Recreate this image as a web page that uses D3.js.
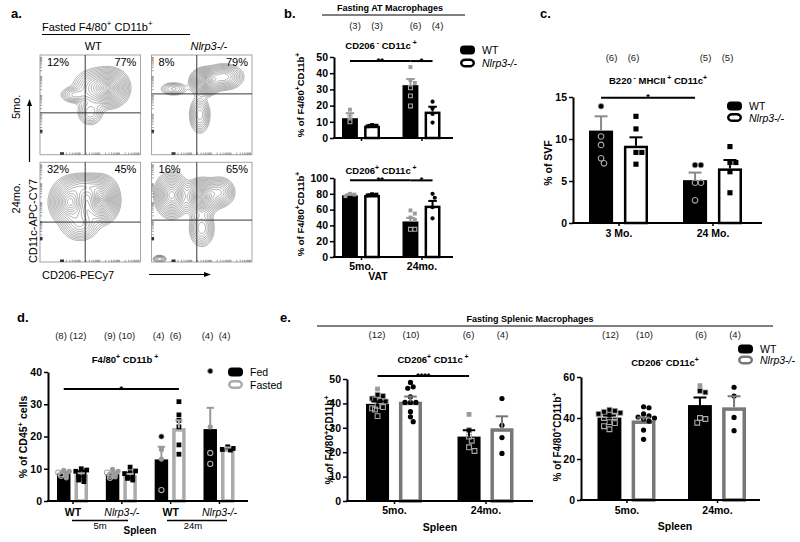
<!DOCTYPE html>
<html><head><meta charset="utf-8">
<script src="https://cdn.jsdelivr.net/npm/d3@7"></script>
<style>
body{margin:0;background:#fff;}
svg{display:block;font-family:"Liberation Sans",Arial,sans-serif;}
</style></head><body>
<svg id="c" width="800" height="542"></svg>
<script>
// ================= DATA =================
// Panel a: flow cytometry contour plots (gaussian components: cx, cy, sx, sy, weight in unit plot coords)
const flowCols = ["WT", "Nlrp3-/-"];
const flowRows = ["5mo.", "24mo."];
const flowWT5  = [[0.70,0.33,0.085,0.085,1.0],[0.56,0.33,0.11,0.09,0.55],[0.34,0.40,0.07,0.04,0.3],[0.50,0.58,0.065,0.065,0.3]];
const flowKO5  = [[0.53,0.27,0.065,0.06,1.0],[0.72,0.22,0.09,0.06,0.55],[0.22,0.34,0.07,0.035,0.22],[0.48,0.60,0.05,0.09,0.38]];
const flowWT24 = [[0.30,0.40,0.09,0.10,0.9],[0.62,0.38,0.075,0.10,1.0],[0.45,0.24,0.11,0.06,0.45],[0.40,0.62,0.09,0.08,0.38]];
const flowKO24 = [[0.20,0.33,0.075,0.10,0.85],[0.50,0.35,0.075,0.08,1.0],[0.68,0.30,0.07,0.07,0.45],[0.50,0.66,0.06,0.09,0.38],[0.08,0.97,0.035,0.02,0.25]];
const flowGates = [[0.45,0.58],[0.45,0.39],[0.45,0.60],[0.45,0.58]];
const flowLeftPct = ["12%","8%","32%","16%"];
const flowRightPct = ["77%","79%","45%","65%"];

// Panel b: Fasting AT macrophages
const genoSeries = ["WT","Nlrp3-/-"];
const bGroups = ["5mo.","24mo."];
const bCounts = ["(3)","(3)","(6)","(4)"];
const b1Ticks = [0,10,20,30,40,50];
const b1Mean = [12.2, 7.6, 32.6, 16.3];
const b1Sem  = [3.1, 0.5, 3.8, 3.0];
const b1Points = [
  [[17.5,"f"],[13,"o"],[10,"o"]],
  [[8.0,"f"],[7.6,"f"],[7.2,"f"]],
  [[43.8,"f"],[35.8,"f"],[34,"f"],[31,"o"],[26,"o"],[19.8,"o"]],
  [[22.4,"f"],[18.3,"f"],[14.8,"f"],[9.5,"f"]]
];
const b2Ticks = [0,20,40,60,80,100];
const b2Mean = [78, 78.5, 45, 65];
const b2Sem  = [1.5, 0.8, 4.5, 6];
const b2Points = [
  [[80,"f"],[79,"f"],[77,"f"]],
  [[79.5,"f"],[79,"f"],[78,"f"]],
  [[59,"f"],[55,"f"],[50,"f"],[47,"f"],[35,"o"],[35,"o"]],
  [[80,"f"],[75,"f"],[63,"f"],[49,"f"]]
];

// Panel c: B220- MHCII+ CD11c+
const cGroups = ["3 Mo.","24 Mo."];
const cCounts = ["(6)","(6)","(5)","(5)"];
const cTicks = [0,5,10,15];
const cMean = [11.0, 9.2, 5.1, 6.5];
const cSem  = [1.7, 1.0, 0.9, 1.0];
const cPoints = [
  [[13.9,"d"],[10.3,"o"],[9.3,"o"],[7.7,"o"],[7.1,"o"]],
  [[12.7,"f"],[11.2,"f"],[8.4,"f"],[8.4,"f"],[7.0,"f"]],
  [[6.9,"d"],[6.9,"d"],[4.8,"o"],[4.8,"o"],[2.7,"o"]],
  [[9.1,"f"],[7.2,"f"],[7.2,"f"],[6.1,"f"],[3.6,"f"]]
];

// Panel d: spleen F4/80+ CD11b+ fed vs fasted
const dGroups = ["WT 5m","Nlrp3 5m","WT 24m","Nlrp3 24m"];
const dGroupLabels = ["WT","Nlrp3-/-","WT","Nlrp3-/-"];
const dSeries = ["Fed","Fasted"];
const dCounts = ["(8)","(12)","(9)","(10)","(4)","(6)","(4)","(4)"];
const dTicks = [0,10,20,30,40];
const dMean = [8.5, 8.2, 8.3, 8.0, 12.9, 22.6, 22.3, 16.3];
const dSem  = [0.4, 0.4, 0.3, 0.4, 3.9, 2.4, 6.6, 0.3];
const dPoints = [
  [[9.5,"f"],[9.2,"f"],[8.8,"o"],[8.5,"f"],[8.3,"o"],[8.0,"f"],[7.8,"o"],[7.2,"f"]],
  [[10,"f"],[9.6,"f"],[9.2,"f"],[9,"f"],[8.7,"f"],[8.4,"f"],[8,"f"],[7.8,"f"],[7.5,"f"],[7,"f"],[6.5,"f"],[6,"f"]],
  [[9.8,"f"],[9.2,"f"],[8.8,"o"],[8.5,"f"],[8.2,"o"],[8,"f"],[7.8,"o"],[7.5,"f"],[7.2,"o"]],
  [[10.5,"f"],[9.3,"f"],[8.8,"f"],[8.5,"f"],[8.2,"f"],[8,"f"],[7.7,"f"],[7.3,"f"],[7,"f"],[6.5,"f"]],
  [[20,"d"],[16,"f"],[13,"f"],[3.4,"o"]],
  [[30.8,"f"],[26.7,"f"],[25,"f"],[23,"f"],[17.4,"f"],[14.5,"f"]],
  [[40.3,"d"],[23,"f"],[14.9,"o"],[11.5,"o"]],
  [[16.8,"f"],[16.3,"f"],[16,"f"],[15.8,"f"]]
];

// Panel e: Fasting splenic macrophages
const eGroups = ["5mo.","24mo."];
const eCounts = ["(12)","(10)","(6)","(4)"];
const e1Ticks = [0,10,20,30,40,50];
const e1Mean = [39.8, 40.7, 26.4, 29.8];
const e1Sem  = [1.0, 2.1, 2.6, 4.9];
const e1Points = [
  [[45.9,"f"],[43.5,"d"],[43,"d"],[42,"d"],[41.5,"d"],[41,"d"],[40.8,"d"],[39,"o"],[38.5,"o"],[38,"o"],[37.5,"o"],[34.8,"o"]],
  [[48.6,"f"],[46.8,"f"],[46.2,"f"],[42.7,"f"],[40.4,"f"],[40.4,"f"],[40.4,"f"],[36.6,"f"],[34.5,"f"],[32.5,"f"]],
  [[35.5,"f"],[29,"d"],[26.4,"o"],[24.7,"o"],[22,"o"],[20.5,"o"]],
  [[42,"f"],[31,"f"],[26,"f"],[19.5,"f"]]
];
const e2Ticks = [0,20,40,60];
const e2Mean = [40.2, 38.8, 46.3, 45.2];
const e2Sem  = [1.0, 1.4, 3.7, 5.4];
const e2Points = [
  [[44,"d"],[43.5,"d"],[43,"d"],[42.5,"d"],[42,"d"],[41.5,"d"],[40.5,"o"],[40,"o"],[38,"o"],[37.5,"o"],[36,"o"],[34.5,"o"]],
  [[45.5,"f"],[45,"f"],[42,"f"],[41,"f"],[40.5,"f"],[40,"f"],[39.5,"f"],[38.5,"f"],[34.1,"f"],[29.6,"f"]],
  [[55.8,"f"],[53.2,"d"],[52.5,"d"],[40,"o"],[39.5,"o"],[37.7,"o"]],
  [[55,"f"],[50.7,"f"],[40.3,"f"],[33.8,"f"]]
];

// ================= DRAWING =================
const svg = d3.select("#c");
const FF = "'Liberation Sans', Arial, sans-serif";

function rich(sel, segs, fs) {
  segs.forEach(([t, s], i) => {
    const ts = sel.append("tspan").text(t);
    if (s) ts.attr("dy", -fs * 0.42).attr("font-size", fs * 0.72);
    else if (i > 0 && segs[i - 1][1]) ts.attr("dy", fs * 0.42);
  });
  return sel;
}
function text(x, y, str, o = {}) {
  const t = svg.append("text").attr("x", x).attr("y", y)
    .attr("font-size", o.fs || 10).attr("font-weight", o.bold ? "bold" : "normal")
    .attr("font-style", o.italic ? "italic" : "normal")
    .attr("text-anchor", o.anchor || "start").attr("fill", o.fill || "#000");
  if (o.rot) t.attr("transform", `rotate(${o.rot},${x},${y})`);
  if (Array.isArray(str)) rich(t, str, o.fs || 10); else t.text(str);
  return t;
}
function line(x1, y1, x2, y2, sw = 1, col = "#000") {
  svg.append("line").attr("x1", x1).attr("y1", y1).attr("x2", x2).attr("y2", y2)
    .attr("stroke", col).attr("stroke-width", sw);
}

// ---------- Panel a ----------
text(11, 18, "a.", {fs: 13, bold: true});
text(42, 31, [["Fasted F4/80",0],["+",1],[" CD11b",0],["+",1]], {fs: 11});
line(42, 34.5, 190, 34.5, 1);
const aCol = d3.scaleBand().domain(flowCols).range([40, 252]).paddingInner(0.1);
const aRow = d3.scaleBand().domain(flowRows).range([55, 262]).paddingInner(0.07);
text(aCol(flowCols[0]) + aCol.bandwidth()/2 + 3, 50, flowCols[0], {fs: 11, anchor: "middle"});
text(aCol(flowCols[1]) + aCol.bandwidth()/2 + 7, 50, flowCols[1], {fs: 11, anchor: "middle", italic: true});
text(20, aRow(flowRows[0]) + aRow.bandwidth()/2 + 2, flowRows[0], {fs: 11, anchor: "middle", rot: -90});
text(20, aRow(flowRows[1]) + aRow.bandwidth()/2 - 14, flowRows[1], {fs: 11, anchor: "middle", rot: -90});
text(37, 221, "CD11c-APC-CY7", {fs: 11, anchor: "middle", rot: -90});
text(42, 279, "CD206-PECy7", {fs: 11});
// arrows
line(29.5, 162, 29.5, 104, 1.2);
svg.append("path").attr("d", "M29.5,99 L27,106 L32,106 Z").attr("fill", "#000");
line(149, 274.5, 205, 274.5, 1.2);
svg.append("path").attr("d", "M211,274.5 L204,272 L204,277 Z").attr("fill", "#000");

const defs = svg.append("defs");
const flowSets = [[0,0,flowWT5],[1,0,flowKO5],[0,1,flowWT24],[1,1,flowKO24]];
flowSets.forEach(([ci, ri, comps], i) => {
  const x0 = aCol(flowCols[ci]), x1 = x0 + aCol.bandwidth();
  const y0 = aRow(flowRows[ri]), y1 = y0 + aRow.bandwidth();
  defs.append("clipPath").attr("id", "clip" + i).append("rect")
    .attr("x", x0).attr("y", y0).attr("width", x1 - x0).attr("height", y1 - y0);
  const n = 100;
  const vals = new Float64Array(n * n);
  for (let j = 0; j < n; j++) for (let k = 0; k < n; k++) {
    const x = (k + 0.5) / n, y = (j + 0.5) / n;
    let v = 0;
    for (const c of comps) v += c[4] * Math.exp(-((x - c[0]) ** 2 / (2 * c[2] ** 2) + (y - c[1]) ** 2 / (2 * c[3] ** 2)));
    vals[j * n + k] = v;
  }
  const mx = d3.max(vals);
  // contour levels evenly spaced in radius out to ~2.5 sigma of the peak
  const thr = d3.range(1, 19).map(k => mx * Math.exp(-0.5 * (2.5 * k / 18) ** 2));
  const cs = d3.contours().size([n, n]).thresholds(thr)(vals);
  const sx = d3.scaleLinear().domain([0, n]).range([x0, x1]);
  const sy = d3.scaleLinear().domain([0, n]).range([y0, y1]);
  const path = d3.geoPath(d3.geoTransform({point(x, y) { this.stream.point(sx(x), sy(y)); }}));
  const g = svg.append("g").attr("clip-path", `url(#clip${i})`);
  g.selectAll("path").data(cs).join("path").attr("d", path)
    .attr("fill", "none").attr("stroke", "#6a6a6a").attr("stroke-width", 0.55);
  // box
  svg.append("rect").attr("x", x0).attr("y", y0).attr("width", x1 - x0).attr("height", y1 - y0)
    .attr("fill", "none").attr("stroke", "#9a9a9a").attr("stroke-width", 0.9);
  // log-style inward ticks
  const lx = d3.scaleLog().domain([10, 1e5]).range([x0 + 20, x1 - 2]);
  const ly = d3.scaleLog().domain([10, 1e5]).range([y1 - 22, y0 + 2]);
  svg.append("g").attr("transform", `translate(0,${y1})`)
    .call(d3.axisBottom(lx).tickSize(-2.2).tickFormat("").tickSizeOuter(0))
    .call(s => s.select(".domain").remove()).selectAll("line").attr("stroke", "#777").attr("stroke-width", 0.7);
  svg.append("g").attr("transform", `translate(${x0},0)`)
    .call(d3.axisLeft(ly).tickSize(-2.2).tickFormat("").tickSizeOuter(0))
    .call(s => s.select(".domain").remove()).selectAll("line").attr("stroke", "#777").attr("stroke-width", 0.7);
  svg.append("rect").attr("x", x0 + 20).attr("y", y1 - 2.5).attr("width", 4).attr("height", 2.5).attr("fill", "#333");
  svg.append("rect").attr("x", x0).attr("y", y1 - 25).attr("width", 2.5).attr("height", 3).attr("fill", "#333");
  // gates
  const gx = x0 + flowGates[i][0] * (x1 - x0), gy = y0 + flowGates[i][1] * (y1 - y0);
  line(gx, y0, gx, y1, 0.9, "#222");
  line(x0, gy, x1, gy, 0.9, "#222");
  text(x0 + 7, y0 + 11, flowLeftPct[i], {fs: 11});
  text(x1 - 4, y0 + 11, flowRightPct[i], {fs: 11, anchor: "end"});
});

// ---------- generic bar chart ----------
function swarm(pts, cx, y, r, half) {
  const items = pts.map(p => ({v: p[0], k: p[1], y: y(p[0])})).sort((a, b) => a.y - b.y);
  const placed = [];
  items.forEach(p => {
    let chosen = null;
    for (let s = 0; s < 12 && chosen === null; s++) {
      const cands = s === 0 ? [0] : [s * r * 1.05, -s * r * 1.05];
      for (const o of cands) {
        if (Math.abs(o) > half) continue;
        const ok = placed.every(q => Math.hypot(q.x - (cx + o), q.y - p.y) >= 2 * r * 0.95);
        if (ok) { chosen = o; break; }
      }
    }
    if (chosen === null) chosen = (placed.length % 2 ? 1 : -1) * Math.min(half, r);
    p.x = cx + chosen;
    placed.push(p);
  });
  return items;
}

function barChart(c) {
  const y = d3.scaleLinear().domain(c.yDomain).range(c.yRange);
  const gx = d3.scalePoint().domain(c.groups).range(c.groupRange);
  const ix = d3.scaleBand().domain(c.series).range([-c.groupWidth / 2, c.groupWidth / 2]).paddingInner(c.pad);
  const bw = ix.bandwidth();
  const bars = [];
  c.groups.forEach((gn, gi) => c.series.forEach((s, si) => {
    const k = gi * c.series.length + si;
    const x0 = gx(gn) + ix(s);
    bars.push({k, gi, si, x0, cx: x0 + bw / 2, mean: c.means[k], sem: c.sems[k], pts: c.points[k]});
  }));
  // bars
  bars.forEach(b => {
    const st = c.styles[b.si];
    const ins = st.sw ? st.sw / 2 : 0;
    svg.append("rect").attr("x", b.x0 + ins).attr("y", y(b.mean) + ins)
      .attr("width", bw - 2 * ins).attr("height", y(0) - y(b.mean) - ins)
      .attr("fill", st.fill).attr("stroke", st.stroke || "none").attr("stroke-width", st.sw || 0);
  });
  // points
  bars.forEach(b => {
    const st = c.styles[b.si];
    const shape = c.shapes[b.k];
    const sym = d3.symbol().type(shape === "circle" ? d3.symbolCircle : d3.symbolSquare)
      .size(shape === "circle" ? Math.PI * c.r * c.r : 4 * c.r * c.r * 0.85);
    swarm(b.pts, b.cx, y, c.r, bw / 2 - c.r * 0.3).forEach(p => {
      const el = svg.append("path").attr("d", sym()).attr("transform", `translate(${p.x},${p.y})`);
      if (st.fill === "#000") {
        if (p.k === "f") el.attr("fill", "#9a9a9a");
        else if (p.k === "d") el.attr("fill", "#000").attr("stroke", "#9a9a9a").attr("stroke-width", 0.8);
        else el.attr("fill", "none").attr("stroke", "#a8a8a8").attr("stroke-width", 1.1);
      } else el.attr("fill", "#000");
    });
  });
  // error bars
  bars.forEach(b => {
    const st = c.styles[b.si];
    const yt = y(b.mean + b.sem);
    line(b.cx, y(b.mean), b.cx, yt, 2, st.err);
    line(b.cx - bw * 0.27, yt, b.cx + bw * 0.27, yt, 2, st.err);
  });
  // y axis
  const ya = svg.append("g").attr("transform", `translate(${c.axisX},0)`)
    .call(d3.axisLeft(y).tickValues(c.ticks).tickSize(4).tickSizeOuter(0).tickPadding(2));
  ya.select(".domain").attr("stroke-width", 2);
  ya.selectAll(".tick line").attr("stroke-width", 1.5);
  ya.selectAll("text").attr("font-family", FF).attr("font-size", 10.5).attr("font-weight", "bold").attr("fill", "#000");
  // x axis
  line(c.axisX - 1, y(0), c.axisRight, y(0), 2);
  const xa = svg.append("g").attr("transform", `translate(0,${y(0)})`)
    .call(d3.axisBottom(gx).tickSize(3).tickPadding(c.xPad || 3)
      .tickFormat((d, i) => c.noXLabels ? "" : (c.groupLabels ? c.groupLabels[i] : d)));
  xa.select(".domain").remove();
  xa.selectAll(".tick line").attr("stroke-width", 1.5);
  xa.selectAll("text").attr("font-family", FF).attr("font-size", 10.5).attr("fill", "#000")
    .attr("font-style", d => c.italicKO && d.startsWith("Nlrp3") ? "italic" : "normal")
    .attr("font-weight", d => c.italicKO && d.startsWith("Nlrp3") ? "normal" : "bold");
  // counts
  if (c.counts) c.groups.forEach((gn, gi) => {
    const ns = c.series.length;
    c.series.forEach((s, si) => {
      const x = gx(gn) + c.countDx + (si - (ns - 1) / 2) * 2 * c.countSpread;
      text(x, c.countY, c.counts[gi * ns + si], {fs: 9.5, anchor: "middle", fill: "#222"});
    });
  });
  // significance
  (c.sig || []).forEach(([i, j, v, lab]) => {
    const yy = y(v);
    line(bars[i].cx, yy, bars[j].cx, yy, 2);
    text((bars[i].cx + bars[j].cx) / 2, yy + 2.5, lab, {fs: 9, bold: true, anchor: "middle"});
  });
  // labels
  if (c.title) text(c.title[0], c.title[1], c.title[2], {fs: 9.5, bold: true, anchor: "middle"});
  if (c.ylabel) text(c.ylabel[0], c.ylabel[1], c.ylabel[2], {fs: c.ylabel[3] || 10, bold: true, anchor: "middle", rot: -90});
  return {y, gx, bars};
}

function legend(x, y0, dy, items) {
  items.forEach((it, i) => {
    const yy = y0 + i * dy;
    const sw = it.sw || 0;
    svg.append("rect").attr("x", x + sw / 2).attr("y", yy - 4.5 + sw / 2)
      .attr("width", 15 - sw).attr("height", 9 - sw).attr("rx", 4)
      .attr("fill", it.fill).attr("stroke", it.stroke || "none").attr("stroke-width", sw);
    text(x + 22, yy + 4, it.label, {fs: 10.5, italic: it.italic});
  });
}

const styleBW = [{fill: "#000", err: "#9a9a9a"}, {fill: "#fff", stroke: "#000", sw: 2.5, err: "#000"}];
const styleC  = [{fill: "#000", err: "#8a8a8a"}, {fill: "#fff", stroke: "#000", sw: 2.5, err: "#000"}];
const styleD  = [{fill: "#000", err: "#9a9a9a"}, {fill: "#fff", stroke: "#ababab", sw: 3.5, err: "#ababab"}];
const styleE  = [{fill: "#000", err: "#000"}, {fill: "#fff", stroke: "#777", sw: 3.5, err: "#777"}];
const yLabF480 = [["% of F4/80",0],["+",1],["CD11b",0],["+",1]];

// ---------- Panel b ----------
text(284, 18, "b.", {fs: 13, bold: true});
text(390, 11, "Fasting AT Macrophages", {fs: 9, bold: true, anchor: "middle"});
line(322, 15, 465, 15, 1);
barChart({
  groups: bGroups, series: genoSeries, groupRange: [361, 421.5], groupWidth: 38, pad: 0.28,
  axisX: 334, axisRight: 453, yDomain: [0, 50], yRange: [138, 57], ticks: b1Ticks,
  means: b1Mean, sems: b1Sem, points: b1Points, shapes: ["square","square","square","circle"],
  styles: styleBW, r: 2.1, noXLabels: true, counts: bCounts, countY: 29, countDx: 5, countSpread: 11,
  sig: [[0, 2, 47.5, "**"], [2, 3, 47.5, "*"]],
  title: [381, 49, [["CD206",0],[" -",1],[" CD11c",0],[" +",1]]],
  ylabel: [304, 95, yLabF480, 9.5]
});
barChart({
  groups: bGroups, series: genoSeries, groupRange: [361, 421.5], groupWidth: 38, pad: 0.28,
  axisX: 334, axisRight: 453, yDomain: [0, 100], yRange: [257, 178], ticks: b2Ticks,
  means: b2Mean, sems: b2Sem, points: b2Points, shapes: ["square","square","square","circle"],
  styles: styleBW, r: 2.1, xPad: 3,
  sig: [[0, 2, 97, "**"], [2, 3, 97, "*"]],
  title: [381, 174, [["CD206",0],["+",1],[" CD11c",0],[" +",1]]],
  ylabel: [304, 214, yLabF480, 9.5]
});
text(378, 280, "VAT", {fs: 10.5, bold: true, anchor: "middle"});
legend(460, 50, 13, [{label: "WT", fill: "#000"}, {label: "Nlrp3-/-", fill: "#fff", stroke: "#000", sw: 2.5, italic: true}]);

// ---------- Panel c ----------
text(540, 18, "c.", {fs: 13, bold: true});
barChart({
  groups: cGroups, series: genoSeries, groupRange: [618.5, 712.5], groupWidth: 59, pad: 0.31,
  axisX: 573, axisRight: 762, yDomain: [0, 15], yRange: [223, 97], ticks: cTicks,
  means: cMean, sems: cSem, points: cPoints, shapes: ["circle","square","circle","square"],
  styles: styleC, r: 2.8, xPad: 4, counts: cCounts, countY: 61, countDx: 4, countSpread: 11,
  sig: [[0, 2, 14.9, "*"]],
  title: [658, 84, [["B220",0],[" -",1],["  MHCII",0],[" +",1],["  CD11c",0],["+",1]]],
  ylabel: [552, 163, "% of SVF", 10.5]
});
legend(727, 106, 11.5, [{label: "WT", fill: "#000"}, {label: "Nlrp3-/-", fill: "#fff", stroke: "#000", sw: 2.5, italic: true}]);

// ---------- Panel d ----------
text(17, 322, "d.", {fs: 13, bold: true});
barChart({
  groups: dGroups, groupLabels: dGroupLabels, italicKO: true, series: dSeries,
  groupRange: [72.5, 219], groupWidth: 31, pad: 0.23,
  axisX: 48, axisRight: 248, yDomain: [0, 40], yRange: [501, 372], ticks: dTicks,
  means: dMean, sems: dSem, points: dPoints,
  shapes: ["circle","square","circle","square","circle","square","circle","square"],
  styles: styleD, r: 2.6, xPad: 5, counts: dCounts, countY: 339, countDx: -3, countSpread: 8.5,
  sig: [[0, 5, 34.7, "*"]],
  title: [125, 363, [["F4/80",0],["+",1],["  CD11b",0],[" +",1]]],
  ylabel: [27, 437, [["% of CD45",0],["+",1],[" cells",0]], 10.5]
});
line(72, 520.5, 128, 520.5, 1.5);
line(167, 520.5, 227, 520.5, 1.5);
text(100, 529, "5m", {fs: 9.5, anchor: "middle"});
text(193, 529, "24m", {fs: 9.5, anchor: "middle"});
text(140, 534, "Spleen", {fs: 10, bold: true, anchor: "middle"});
legend(228, 372, 12.5, [{label: "Fed", fill: "#000"}, {label: "Fasted", fill: "#fff", stroke: "#ababab", sw: 2.5}]);

// ---------- Panel e ----------
text(280, 322, "e.", {fs: 13, bold: true});
text(530, 322, "Fasting Splenic Macrophages", {fs: 9, bold: true, anchor: "middle"});
line(317, 326, 773, 326, 1);
barChart({
  groups: eGroups, series: genoSeries, groupRange: [394, 485.5], groupWidth: 56, pad: 0.3,
  axisX: 347, axisRight: 533, yDomain: [0, 50], yRange: [501, 379], ticks: e1Ticks,
  means: e1Mean, sems: e1Sem, points: e1Points, shapes: ["square","circle","square","circle"],
  styles: styleE, r: 2.6, xPad: 3, counts: eCounts, countY: 338, countDx: 0, countSpread: 17,
  sig: [[0, 2, 51.2, "****"]],
  title: [433, 363, [["CD206",0],["+",1],[" CD11c",0],[" +",1]]],
  ylabel: [333, 440, yLabF480, 10]
});
text(440, 531, "Spleen", {fs: 10.5, bold: true, anchor: "middle"});
barChart({
  groups: eGroups, series: genoSeries, groupRange: [626.5, 717], groupWidth: 58, pad: 0.3,
  axisX: 581, axisRight: 760, yDomain: [0, 60], yRange: [500, 377], ticks: e2Ticks,
  means: e2Mean, sems: e2Sem, points: e2Points, shapes: ["square","circle","square","circle"],
  styles: styleE, r: 2.6, xPad: 4, counts: eCounts, countY: 338, countDx: 1, countSpread: 17,
  title: [665, 366, [["CD206",0],["-",1],[" CD11c",0],["+",1]]],
  ylabel: [561, 437, yLabF480, 10]
});
text(675, 530, "Spleen", {fs: 10.5, bold: true, anchor: "middle"});
legend(738, 349, 11, [{label: "WT", fill: "#000"}, {label: "Nlrp3-/-", fill: "#fff", stroke: "#777", sw: 2.5, italic: true}]);
</script>
</body></html>
